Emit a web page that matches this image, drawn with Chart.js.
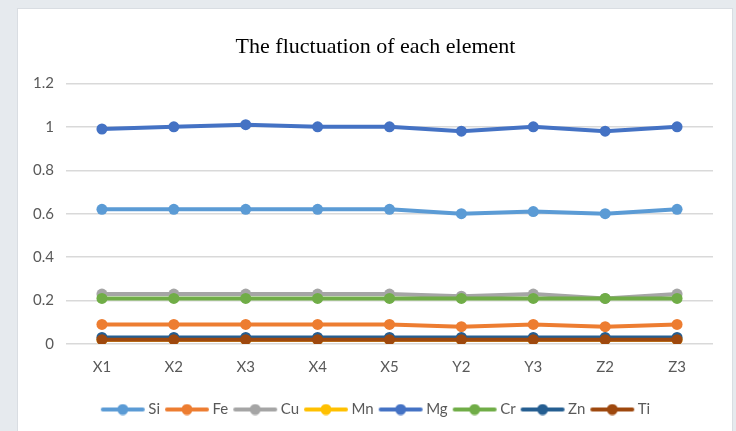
<!DOCTYPE html>
<html>
<head>
<meta charset="utf-8">
<script src="https://cdn.jsdelivr.net/npm/chart.js@4"></script>
<style>
  html, body { margin: 0; padding: 0; background: #e6eaee; overflow: hidden; }
  #card { position: absolute; left: 17px; top: 8px; width: 716px; height: 440px; background: #fff; border: 1px solid #d9dde2; box-sizing: border-box; }
  #chart { display: block; }
</style>
</head>
<body>
<div id="card"><canvas id="chart" width="716" height="423"></canvas></div>
<script>
const categories = ['X1', 'X2', 'X3', 'X4', 'X5', 'Y2', 'Y3', 'Z2', 'Z3'];
const seriesNames = ['Si', 'Fe', 'Cu', 'Mn', 'Mg', 'Cr', 'Zn', 'Ti'];
const si = [0.62, 0.62, 0.62, 0.62, 0.62, 0.60, 0.61, 0.60, 0.62];
const fe = [0.09, 0.09, 0.09, 0.09, 0.09, 0.08, 0.09, 0.08, 0.09];
const cu = [0.23, 0.23, 0.23, 0.23, 0.23, 0.22, 0.23, 0.21, 0.23];
const mn = [0.02, 0.02, 0.02, 0.02, 0.02, 0.02, 0.02, 0.02, 0.02];
const mg = [0.99, 1.00, 1.01, 1.00, 1.00, 0.98, 1.00, 0.98, 1.00];
const cr = [0.21, 0.21, 0.21, 0.21, 0.21, 0.21, 0.21, 0.21, 0.21];
const zn = [0.03, 0.03, 0.03, 0.03, 0.03, 0.03, 0.03, 0.03, 0.03];
const ti = [0.02, 0.02, 0.02, 0.02, 0.02, 0.02, 0.02, 0.02, 0.02];
const yTicks = [0, 0.2, 0.4, 0.6, 0.8, 1, 1.2];

const values = [si, fe, cu, mn, mg, cr, zn, ti];
const colors = ['#5b9bd5', '#ed7d31', '#a5a5a5', '#ffc000', '#4472c4', '#70ad47', '#255e91', '#9e480e'];

// small line+dot image for the legend, like Excel (shifted right so it sits close to the text)
function legendIcon(color) {
  const c = document.createElement('canvas');
  c.width = 52; c.height = 12;
  const g = c.getContext('2d');
  g.strokeStyle = color; g.lineWidth = 4; g.lineCap = 'round';
  g.beginPath(); g.moveTo(8, 6); g.lineTo(48, 6); g.stroke();
  g.fillStyle = color;
  g.beginPath(); g.arc(28, 6, 5.5, 0, Math.PI * 2); g.fill();
  return c;
}

const datasets = seriesNames.map((name, i) => ({
  label: name,
  data: values[i],
  borderColor: colors[i],
  backgroundColor: colors[i],
  borderWidth: 4,
  pointRadius: 5.5,
  pointHoverRadius: 5.5,
  pointBorderWidth: 0,
  order: seriesNames.length - i
}));

// title and legend are centred on the whole card, not on the padded area
const centreOnCard = {
  id: 'centreOnCard',
  afterLayout(chart) {
    [chart.titleBlock, chart.legend].forEach(b => {
      if (!b) return;
      b.left += 10;
      b.right += 10;
    });
  }
};

new Chart(document.getElementById('chart'), {
  type: 'line',
  data: { labels: categories, datasets },
  plugins: [centreOnCard],
  options: {
    responsive: false,
    animation: false,
    layout: { padding: { left: 0, right: 21, top: 14, bottom: 5 } },
    plugins: {
      title: {
        display: true,
        text: 'The fluctuation of each element',
        font: { family: 'Liberation Serif', size: 22, weight: 'normal' },
        color: '#000',
        padding: { top: 11, bottom: 23 }
      },
      legend: {
        position: 'bottom',
        labels: {
          usePointStyle: true,
          pointStyleWidth: 40,
          font: { family: 'Lato', size: 15 },
          color: '#595959',
          padding: 5,
          generateLabels: chart => chart.data.datasets.map((d, i) => ({
            text: d.label,
            pointStyle: legendIcon(d.borderColor),
            fillStyle: d.borderColor,
            strokeStyle: d.borderColor,
            lineWidth: 0,
            fontColor: '#595959',
            datasetIndex: i,
            hidden: false
          }))
        }
      },
      tooltip: { enabled: false }
    },
    scales: {
      x: {
        offset: true,
        grid: { display: false },
        border: { display: false },
        ticks: { font: { family: 'Lato', size: 15 }, color: '#595959', padding: 6 },
        afterFit: axis => { axis.height += 15; }
      },
      y: {
        min: 0,
        max: 1.2,
        afterBuildTicks: axis => { axis.ticks = yTicks.map(v => ({ value: v })); },
        afterFit: axis => { axis.width = 48; },
        grid: { color: '#d9d9d9', lineWidth: 1.5, drawTicks: false },
        border: { display: false },
        ticks: {
          font: { family: 'Lato', size: 15 },
          color: '#595959',
          padding: 12,
          callback: v => String(Math.round(v * 10) / 10)
        }
      }
    }
  }
});
</script>
</body>
</html>
